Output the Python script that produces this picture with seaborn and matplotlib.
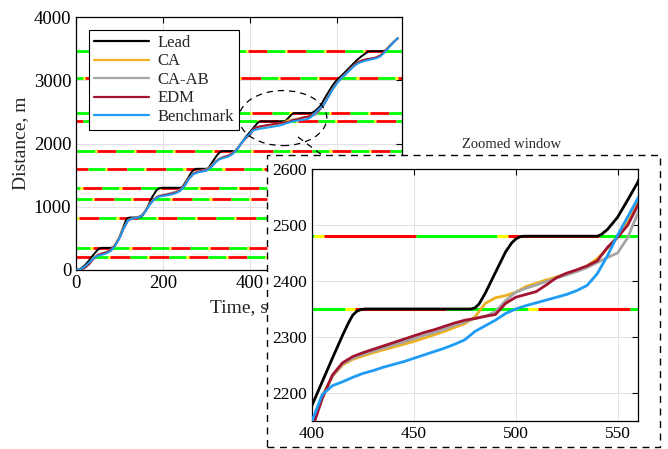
import matplotlib
matplotlib.use('Agg')
import matplotlib.pyplot as plt
import numpy as np
import seaborn as sns
from matplotlib.patches import Ellipse, Rectangle
from matplotlib.lines import Line2D

# ---- data ----
# lead vehicle
lead_t = [0, 10, 20, 30, 40, 50, 55, 60, 80, 85, 90, 100, 110, 115, 120, 125, 145, 150, 155, 165, 175, 185,
          192, 197, 240, 245, 255, 265, 272, 277, 300, 305, 315, 325, 332, 337, 365, 370, 380, 390,
          400, 405, 410, 415, 418, 420, 422, 424, 426, 478, 480, 482, 485, 490, 495, 498, 500, 502, 504,
          540, 542, 545, 550, 555, 560,
          565, 570, 580, 590, 597, 605, 615, 625, 635, 645, 655, 665, 672, 677, 708, 713, 720, 730, 740]
lead_d = [0, 20, 70, 150, 240, 320, 345, 350, 350, 360, 400, 520, 700, 790, 825, 830, 830, 840, 880, 1000, 1150, 1260,
          1295, 1300, 1300, 1315, 1420, 1540, 1590, 1600, 1600, 1615, 1720, 1820, 1870, 1880, 1880, 1900, 2000, 2100,
          2178, 2220, 2262, 2303, 2326, 2339, 2346, 2349, 2350, 2350, 2352, 2359, 2378, 2415, 2452, 2468, 2475, 2479, 2480,
          2480, 2483, 2492, 2514, 2545, 2577,
          2625, 2690, 2805, 2915, 2980, 3035, 3100, 3170, 3240, 3310, 3370, 3420, 3452, 3460, 3460, 3475, 3525, 3595, 3665]

# followers share one time grid
t_f = list(range(0, 401, 10)) + list(range(405, 561, 5)) + list(range(570, 741, 10))

ca = [0, 10, 45, 110, 190, 240, 262, 282, 315, 395, 515, 670, 790, 818, 832, 855, 935, 1045, 1125, 1168, 1182,
      1195, 1210, 1228, 1262, 1340, 1450, 1525, 1552, 1568, 1585, 1628, 1705, 1760, 1788, 1808, 1845, 1910, 2005, 2085, 2140,
      2195, 2230, 2250, 2260, 2266, 2272, 2277, 2282, 2287, 2292, 2298, 2304, 2310, 2317, 2324, 2336,
      2360, 2370, 2374, 2380, 2390, 2396, 2402, 2407, 2413, 2419, 2427, 2440, 2458, 2479, 2505, 2539,
      2620, 2740, 2860, 2960, 3035, 3100, 3170, 3240, 3290, 3315, 3330, 3340, 3355, 3390, 3455, 3530, 3600, 3662]
ca_ab = [0, 10, 45, 110, 190, 240, 265, 285, 318, 395, 515, 670, 790, 820, 835, 858, 938, 1048, 1128, 1172, 1190,
         1205, 1222, 1240, 1270, 1345, 1452, 1528, 1558, 1575, 1592, 1635, 1710, 1765, 1795, 1815, 1850, 1912, 2005, 2085, 2140,
         2192, 2230, 2252, 2262, 2269, 2275, 2280, 2286, 2291, 2297, 2303, 2308, 2314, 2321, 2327, 2333,
         2337, 2345, 2365, 2380, 2387, 2393, 2399, 2405, 2411, 2417, 2424, 2433, 2442, 2450, 2478, 2522,
         2610, 2730, 2855, 2955, 3030, 3095, 3165, 3235, 3285, 3312, 3328, 3340, 3355, 3388, 3452, 3528, 3600, 3660]
edm = [0, 5, 30, 90, 175, 235, 260, 280, 312, 385, 505, 660, 785, 815, 830, 852, 930, 1040, 1120, 1165, 1180,
       1192, 1208, 1226, 1258, 1335, 1445, 1520, 1548, 1565, 1580, 1622, 1700, 1755, 1782, 1802, 1840, 1905, 2000, 2080, 2135,
       2190, 2232, 2254, 2265, 2272, 2278, 2284, 2290, 2296, 2302, 2308, 2313, 2319, 2325, 2330, 2333,
       2337, 2340, 2360, 2371, 2376, 2381, 2393, 2406, 2414, 2420, 2427, 2436, 2460, 2478, 2500, 2536,
       2615, 2735, 2858, 2958, 3032, 3098, 3168, 3238, 3288, 3318, 3335, 3345, 3360, 3392, 3455, 3530, 3600, 3660]
bench = [0, 12, 50, 115, 185, 225, 240, 262, 300, 380, 500, 660, 785, 812, 825, 848, 925, 1035, 1115, 1158, 1170,
         1180, 1195, 1215, 1250, 1330, 1440, 1515, 1540, 1555, 1570, 1615, 1695, 1750, 1772, 1790, 1830, 1900, 2000, 2090, 2150,
         2197, 2213, 2220, 2228, 2235, 2240, 2246, 2251, 2256, 2262, 2268, 2274, 2280, 2287, 2295, 2310,
         2320, 2330, 2342, 2350, 2356, 2361, 2366, 2371, 2376, 2383, 2392, 2413, 2445, 2482, 2515, 2548,
         2615, 2730, 2850, 2950, 3030, 3095, 3160, 3225, 3270, 3295, 3315, 3330, 3345, 3375, 3440, 3520, 3595, 3665]

# traffic lights: position and start of red phase (cycle 90 s)
light_d = [200, 340, 830, 1120, 1300, 1600, 1880, 2350, 2480, 3040, 3460]
light_red_start = [79, 38, 8, 42, 15, 72, 48, 61, 46, 20, 35]
red_dur, green_dur, yellow_dur = 45, 40, 5

series = [('Lead', lead_t, lead_d, 'black'),
          ('CA', t_f, ca, '#EDB120'),
          ('CA-AB', t_f, ca_ab, '#A5A5A5'),
          ('EDM', t_f, edm, '#A2142F'),
          ('Benchmark', t_f, bench, '#1E9BF5')]

# ---- style ----
sns.set_style('white')
plt.rcParams['font.family'] = ['Liberation Serif', 'DejaVu Serif']
plt.rcParams['xtick.direction'] = 'in'
plt.rcParams['ytick.direction'] = 'in'

W, H = 668, 449
fig = plt.figure(figsize=(W / 100, H / 100), dpi=100)


def px(x0, y0, x1, y1):
    return [x0 / W, 1 - y1 / H, (x1 - x0) / W, (y1 - y0) / H]


def draw_lights(a, t0, t1, lw):
    cyc = red_dur + green_dur + yellow_dur
    for d, p in zip(light_d, light_red_start):
        k = p - cyc
        while k < t1:
            parts = [(k, k + red_dur, 'red'),
                     (k + red_dur, k + red_dur + green_dur, '#00FF00'),
                     (k + red_dur + green_dur, k + cyc, '#FFFF00')]
            for s, e, c in parts:
                s, e = max(s, t0), min(e, t1)
                if e > s:
                    a.plot([s, e], [d, d], color=c, lw=lw, solid_capstyle='butt', zorder=1)
            k += cyc


def style_axes(a, size):
    a.grid(True, color='#DDDDDD', lw=0.6)
    a.tick_params(top=True, right=True, length=4, width=0.8, labelsize=size, colors='black')
    for s in a.spines.values():
        s.set_visible(True)
        s.set_color('black')
        s.set_linewidth(0.9)


# main axes
ax = fig.add_axes(px(76, 17, 402, 270))
draw_lights(ax, 0, 750, 2.0)
for name, t, d, c in series:
    sns.lineplot(x=t, y=d, ax=ax, color=c, lw=1.4, label=name, zorder=3)
ax.set_xlim(0, 750)
ax.set_ylim(0, 4000)
ax.set_xticks([0, 200, 400, 600])
ax.set_yticks([0, 1000, 2000, 3000, 4000])
ax.set_xlabel('Time, s', fontsize=14, labelpad=5)
ax.set_ylabel('Distance, m', fontsize=14, labelpad=3)
style_axes(ax, 13.5)
ax.add_patch(Ellipse((476, 2402), 202, 870, fill=False, ec='black', ls=(0, (5, 4)), lw=0.9, zorder=4))
leg = ax.legend(loc='upper left', bbox_to_anchor=(0.041, 0.949), borderaxespad=0, fontsize=12,
                handlelength=3.3, handletextpad=0.5, labelspacing=0.15, fancybox=False, framealpha=1,
                edgecolor='black', borderpad=0.3)
leg.get_frame().set_linewidth(0.8)
for ln in leg.get_lines():
    ln.set_linewidth(1.6)

# dashed box of zoom window and connector
fig.add_artist(Rectangle((267 / W, 1 - 447 / H), 393 / W, 292 / H, transform=fig.transFigure,
                         fc='white', ec='black', ls=(0, (5, 4)), lw=1.0, zorder=1))
fig.add_artist(Line2D([298 / W, 322 / W], [1 - 137 / H, 1 - 155 / H], transform=fig.transFigure,
                      color='black', ls=(0, (5, 4)), lw=0.9, zorder=1))
fig.text(512 / W, 1 - 145 / H, 'Zoomed window', ha='center', va='center', fontsize=10.5)

# inset axes
axin = fig.add_axes(px(312, 169, 638, 421), zorder=2)
draw_lights(axin, 400, 560, 2.2)
for name, t, d, c in series:
    sns.lineplot(x=t, y=d, ax=axin, color=c, lw=2.0, zorder=3)
axin.set_xlim(400, 560)
axin.set_ylim(2150, 2600)
axin.set_xticks([400, 450, 500, 550])
axin.set_yticks([2200, 2300, 2400, 2500, 2600])
style_axes(axin, 12.5)

fig.savefig('out.png', dpi=100)
